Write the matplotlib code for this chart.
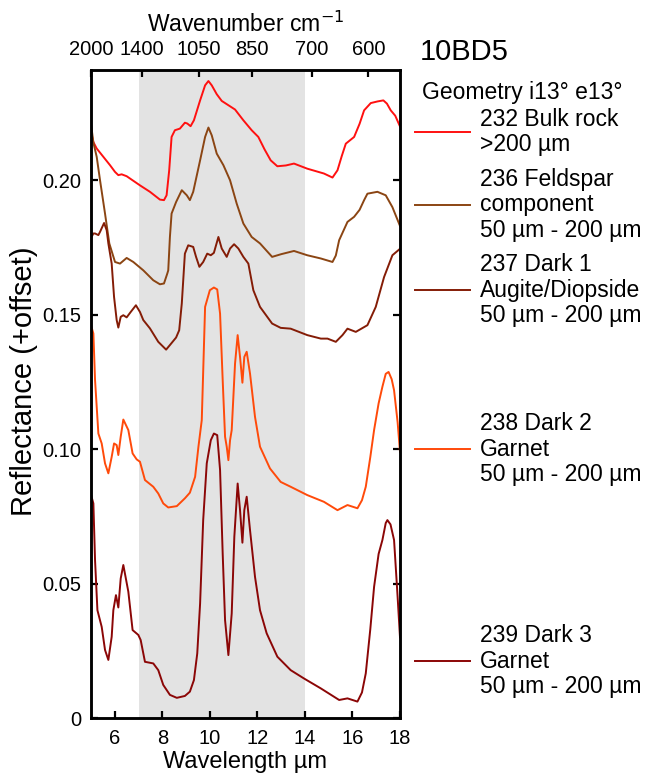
import matplotlib
matplotlib.use("Agg")
import matplotlib.pyplot as plt
from matplotlib.lines import Line2D

plt.rcParams["font.family"] = ["Liberation Sans", "DejaVu Sans"]

# 232 Bulk rock
red_wl = [5.0, 5.1, 5.24, 5.52, 5.8, 6.01, 6.15, 6.29, 6.5, 7.06, 7.48, 7.9, 8.07, 8.18, 8.29,
          8.39, 8.53, 8.74, 8.95, 9.05, 9.19, 9.33, 9.59, 9.8, 9.94, 10.08, 10.29, 10.5, 10.78,
          11.06, 11.41, 11.76, 12.04, 12.3, 12.56, 12.84, 13.2, 13.54, 14.1, 14.8, 15.16, 15.37,
          15.55, 15.72, 16.07, 16.3, 16.49, 16.77, 17.05, 17.3, 17.45, 17.61, 17.8, 18.0]
red_r = [0.218, 0.2142, 0.2118, 0.2087, 0.2056, 0.2031, 0.2019, 0.2022, 0.2015, 0.1981, 0.1957,
         0.1928, 0.1926, 0.1944, 0.2037, 0.2161, 0.2186, 0.2192, 0.2214, 0.2211, 0.2201, 0.2223,
         0.2297, 0.2353, 0.2369, 0.2353, 0.232, 0.2295, 0.2279, 0.2263, 0.2223, 0.2186, 0.2161,
         0.2115, 0.2074, 0.2052, 0.2055, 0.2062, 0.2043, 0.2025, 0.201, 0.2037, 0.209, 0.2136,
         0.2161, 0.221, 0.226, 0.2287, 0.2293, 0.2297, 0.2285, 0.226, 0.224, 0.220]

# 236 Feldspar component
brown_wl = [5.0, 5.1, 5.24, 5.38, 5.59, 5.77, 6.01, 6.22, 6.5, 6.78, 7.2, 7.62, 7.9, 8.07, 8.21,
            8.25, 8.32, 8.39, 8.58, 8.82, 9.03, 9.16, 9.3, 9.59, 9.8, 9.94, 10.08, 10.29, 10.57,
            10.85, 11.13, 11.41, 11.76, 12.11, 12.62, 13.0, 13.54, 14.1, 14.67, 15.16, 15.3,
            15.44, 15.79, 16.07, 16.3, 16.49, 16.63, 17.05, 17.4, 17.68, 18.0]
brown_r = [0.221, 0.214, 0.2087, 0.2, 0.1876, 0.1765, 0.1696, 0.169, 0.1711, 0.1696, 0.1665,
           0.1628, 0.1613, 0.1616, 0.1653, 0.1665, 0.1789, 0.1876, 0.1919, 0.1963, 0.1944,
           0.1926, 0.1957, 0.2074, 0.2161, 0.2196, 0.2167, 0.2099, 0.2056, 0.2, 0.1913, 0.1839,
           0.1789, 0.1765, 0.1715, 0.1725, 0.1737, 0.1721, 0.1709, 0.1696, 0.172, 0.1777,
           0.1845, 0.1864, 0.189, 0.1926, 0.195, 0.1957, 0.1944, 0.19, 0.183]

# 237 Dark 1 Augite/Diopside
dark1_wl = [5.0, 5.1, 5.17, 5.31, 5.38, 5.55, 5.66, 5.73, 5.87, 5.97, 6.08, 6.15, 6.25, 6.36,
            6.5, 6.67, 6.89, 7.06, 7.2, 7.48, 7.83, 8.16, 8.32, 8.58, 8.71, 8.82, 8.95, 9.09,
            9.3, 9.42, 9.56, 9.72, 9.89, 10.04, 10.17, 10.36, 10.5, 10.71, 10.85, 11.02, 11.2,
            11.41, 11.62, 11.83, 12.11, 12.62, 12.98, 13.4, 14.1, 14.67, 14.95, 15.3, 15.58,
            15.79, 16.14, 16.63, 16.98, 17.33, 17.68, 18.0]
dark1_r = [0.1785, 0.1802, 0.1802, 0.1796, 0.1808, 0.1841, 0.1814, 0.1765, 0.169, 0.1566,
           0.148, 0.1452, 0.1492, 0.1498, 0.149, 0.151, 0.1535, 0.151, 0.148, 0.1449, 0.1399,
           0.137, 0.1387, 0.1415, 0.1442, 0.1542, 0.1727, 0.1758, 0.1752, 0.1715, 0.1678,
           0.1696, 0.1727, 0.1721, 0.173, 0.1789, 0.1746, 0.1715, 0.1746, 0.1762, 0.1746,
           0.1715, 0.169, 0.1591, 0.1529, 0.1467, 0.1451, 0.1448, 0.1424, 0.1411, 0.1411,
           0.1399, 0.1424, 0.1448, 0.1436, 0.1461, 0.1529, 0.164, 0.1721, 0.1745]

# 238 Dark 2 Garnet
dark2_wl = [5.0, 5.1, 5.17, 5.31, 5.45, 5.59, 5.73, 5.87, 5.97, 6.08, 6.15, 6.25, 6.36, 6.57,
            6.75, 6.92, 7.06, 7.27, 7.62, 7.83, 8.04, 8.25, 8.61, 8.95, 9.16, 9.38, 9.52, 9.66,
            9.8, 10.0, 10.17, 10.31, 10.43, 10.54, 10.64, 10.71, 10.78, 10.85, 10.92, 11.06,
            11.17, 11.27, 11.37, 11.45, 11.55, 11.69, 11.9, 12.11, 12.53, 12.98, 13.4, 14.1,
            14.8, 15.37, 15.79, 16.21, 16.4, 16.56, 16.75, 16.91, 17.1, 17.26, 17.4, 17.52,
            17.65, 17.75, 17.9, 18.0]
dark2_r = [0.146, 0.143, 0.1257, 0.1058, 0.1021, 0.0947, 0.091, 0.0971, 0.1021, 0.1015, 0.0978,
           0.1046, 0.111, 0.1071, 0.0984, 0.0962, 0.0953, 0.0885, 0.086, 0.0835, 0.0798, 0.0783,
           0.0788, 0.0817, 0.0838, 0.0897, 0.1009, 0.1108, 0.1529, 0.1591, 0.1601, 0.1594,
           0.1504, 0.1257, 0.1046, 0.1009, 0.0959, 0.1033, 0.1071, 0.1318, 0.1424, 0.1343,
           0.1247, 0.1343, 0.1362, 0.1281, 0.1120, 0.1009, 0.0928, 0.0878, 0.086, 0.0829,
           0.0804, 0.0773, 0.0792, 0.078, 0.081, 0.086, 0.097, 0.1071, 0.117, 0.1232, 0.128,
           0.1287, 0.126, 0.1219, 0.11, 0.099]

# 239 Dark 3 Garnet
dark3_wl = [5.0, 5.1, 5.17, 5.27, 5.45, 5.59, 5.73, 5.87, 5.94, 6.05, 6.15, 6.25, 6.36, 6.57,
            6.75, 6.99, 7.09, 7.27, 7.62, 7.83, 8.04, 8.32, 8.61, 8.95, 9.16, 9.33, 9.47, 9.59,
            9.72, 9.87, 10.04, 10.17, 10.31, 10.43, 10.54, 10.64, 10.78, 10.92, 11.03, 11.17,
            11.27, 11.37, 11.45, 11.55, 11.69, 11.9, 12.11, 12.39, 12.84, 13.4, 13.96, 14.67,
            15.44, 15.79, 16.21, 16.4, 16.56, 16.75, 16.91, 17.1, 17.26, 17.4, 17.47, 17.6,
            17.75, 17.9, 18.0]
dark3_r = [0.083, 0.0798, 0.0587, 0.0401, 0.0339, 0.0253, 0.0216, 0.0302, 0.0401, 0.0457,
           0.0411, 0.0519, 0.0569, 0.047, 0.0327, 0.0309, 0.029, 0.0209, 0.0203, 0.0178, 0.0123,
           0.0086, 0.0075, 0.0082, 0.0098, 0.0141, 0.024, 0.0426, 0.0736, 0.0947, 0.1033,
           0.1058, 0.1052, 0.0922, 0.0612, 0.0364, 0.0234, 0.0389, 0.0674, 0.0872, 0.0773,
           0.0652, 0.0773, 0.0823, 0.0699, 0.0525, 0.0401, 0.0315, 0.0228, 0.0178, 0.0147,
           0.011, 0.0067, 0.0073, 0.0061, 0.0095, 0.0166, 0.033, 0.0488, 0.061, 0.0662, 0.0725,
           0.0736, 0.072, 0.0662, 0.045, 0.030]

wavenumbers = [2000, 1400, 1050, 850, 700, 600]
y_ticks = [0, 0.05, 0.10, 0.15, 0.20]
y_ticklabels = ["0", "0.05", "0.10", "0.15", "0.20"]

series = [
    (red_wl, red_r, "#ff1010", "232 Bulk rock\n>200 µm", 132),
    (brown_wl, brown_r, "#8b4513", "236 Feldspar\ncomponent\n50 µm - 200 µm", 205),
    (dark1_wl, dark1_r, "#841c06", "237 Dark 1\nAugite/Diopside\n50 µm - 200 µm", 290),
    (dark2_wl, dark2_r, "#ff4a0a", "238 Dark 2\nGarnet\n50 µm - 200 µm", 449),
    (dark3_wl, dark3_r, "#8b0606", "239 Dark 3\nGarnet\n50 µm - 200 µm", 661),
]

W, H = 651, 782
fig = plt.figure(figsize=(W / 100, H / 100), dpi=100)
ax = fig.add_axes([91 / W, 1 - 718 / H, 309 / W, 648 / H])

ax.axvspan(7, 14, color="#e3e3e3", lw=0, zorder=0)
for wl, r, col, label, ly in series:
    ax.plot(wl, r, color=col, lw=1.4, zorder=2, solid_joinstyle="round")

ax.set_xlim(5, 18)
ax.set_ylim(0, 0.241)
ax.set_xticks([6, 8, 10, 12, 14, 16, 18])
ax.set_yticks(y_ticks)
ax.set_yticklabels(y_ticklabels)
ax.yaxis.set_ticks_position("both")
ax.tick_params(direction="in", length=5, width=1.6, labelsize=14.5)
ax.tick_params(axis="x", pad=8)
ax.tick_params(axis="y", pad=7)
for s in ax.spines.values():
    s.set_linewidth(1.8)
ax.set_xlabel("Wavelength µm", fontsize=17, labelpad=2)
ax.set_ylabel("Reflectance (+offset)", fontsize=21)
ax.yaxis.set_label_coords(-0.172, 0.52)

top = ax.twiny()
top.set_xlim(5, 18)
top.set_xticks([10000 / w for w in wavenumbers])
top.set_xticklabels([str(w) for w in wavenumbers])
top.tick_params(direction="in", length=5, width=1.6, labelsize=14.5, pad=8)
for s in top.spines.values():
    s.set_linewidth(1.8)
top.set_xlabel("Wavenumber cm$^{-1}$", fontsize=16.5, labelpad=6)

fig.text(420 / W, 1 - 52 / H, "10BD5", fontsize=21, va="center", ha="left")
fig.text(422 / W, 1 - 93 / H, "Geometry i13° e13°", fontsize=16.5, va="center", ha="left")
for wl, r, col, label, ly in series:
    fig.add_artist(Line2D([415 / W, 470 / W], [1 - ly / H, 1 - ly / H], color=col, lw=1.4))
    fig.text(480 / W, 1 - ly / H, label, fontsize=16.5, va="center", ha="left", linespacing=1.15)

plt.savefig("out.png", dpi=100)
